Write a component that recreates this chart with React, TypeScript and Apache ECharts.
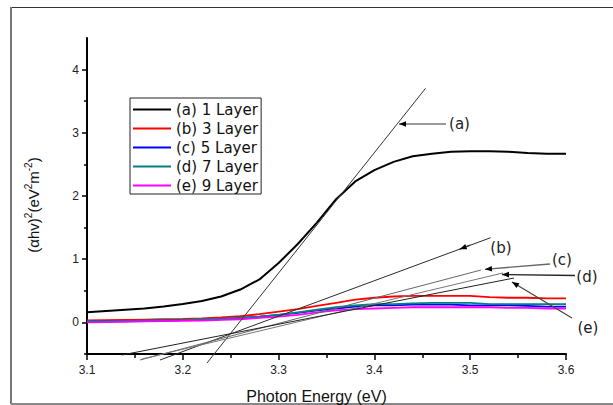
import React, { useEffect, useRef } from "react";
import * as echarts from "echarts";

// Photon energy grid (eV)
const energy = [3.10, 3.12, 3.14, 3.16, 3.18, 3.20, 3.22, 3.24, 3.26, 3.28, 3.30, 3.32, 3.34, 3.36, 3.38, 3.40, 3.42, 3.44, 3.46, 3.48, 3.50, 3.52, 3.54, 3.56, 3.58, 3.60];

// (αhν)² values for each film
const layer1 = [0.16, 0.18, 0.20, 0.22, 0.25, 0.29, 0.34, 0.41, 0.52, 0.68, 0.94, 1.24, 1.58, 1.95, 2.23, 2.41, 2.54, 2.63, 2.67, 2.70, 2.71, 2.71, 2.70, 2.68, 2.67, 2.67];
const layer3 = [0.03, 0.035, 0.04, 0.045, 0.05, 0.055, 0.065, 0.08, 0.10, 0.13, 0.17, 0.21, 0.26, 0.31, 0.36, 0.39, 0.41, 0.42, 0.42, 0.42, 0.42, 0.40, 0.39, 0.39, 0.38, 0.38];
const layer5 = [0.01, 0.015, 0.02, 0.025, 0.03, 0.035, 0.04, 0.05, 0.07, 0.09, 0.12, 0.15, 0.19, 0.22, 0.25, 0.27, 0.27, 0.28, 0.28, 0.28, 0.27, 0.27, 0.27, 0.26, 0.25, 0.25];
const layer7 = [0.02, 0.02, 0.025, 0.03, 0.035, 0.04, 0.05, 0.06, 0.07, 0.09, 0.12, 0.16, 0.20, 0.24, 0.27, 0.29, 0.29, 0.30, 0.31, 0.31, 0.31, 0.29, 0.29, 0.29, 0.29, 0.29];
const layer9 = [0.00, 0.005, 0.01, 0.015, 0.02, 0.025, 0.03, 0.04, 0.05, 0.07, 0.09, 0.12, 0.16, 0.19, 0.21, 0.22, 0.23, 0.24, 0.24, 0.24, 0.24, 0.24, 0.23, 0.23, 0.22, 0.22];

const seriesNames = ["(a) 1 Layer", "(b) 3 Layer", "(c) 5 Layer", "(d) 7 Layer", "(e) 9 Layer"];
const seriesValues = [layer1, layer3, layer5, layer7, layer9];
const seriesColors = ["#000000", "#ff0000", "#0000ff", "#008080", "#ff00ff"];
const seriesWidths = [2, 1.8, 1.8, 1.8, 1.8];

// Tangent (Tauc extrapolation) lines: [start], [end]
const tangentA = [[3.2253, -0.642], [3.4534, 3.704]];
const tangentB = [[3.1762, -0.595], [3.5213, 1.34]];
const tangentC = [[3.1553, -0.595], [3.5113, 0.829]];
const tangentD = [[3.1574, -0.579], [3.5342, 0.782]];
const tangentE = [[3.1365, -0.516], [3.5457, 0.702]];
const tangents = [tangentA, tangentB, tangentC, tangentD, tangentE];
const tangentColors = ["#333333", "#2a2a2a", "#666666", "#777777", "#222222"];

// Annotation arrows (data coordinates) and labels
const arrowFrom = [[3.4747, 3.139], [3.5, 1.221], [3.5833, 0.924], [3.6094, 0.742], [3.6062, 0.07]];
const arrowTo = [[3.4257, 3.139], [3.489, 1.159], [3.5154, 0.84], [3.5332, 0.758], [3.5436, 0.639]];
const arrowColors = ["#777777", "#333333", "#666666", "#222222", "#444444"];
const labelTexts = ["(a)", "(b)", "(c)", "(d)", "(e)"];
const labelAt = [[3.4779, 3.139], [3.5321, 1.177], [3.5958, 0.987], [3.6219, 0.726], [3.6229, -0.081]];
const labelAlign = ["left", "center", "center", "center", "center"];

const yMajorTicks = [0, 1, 2, 3, 4];
const yMinorTicks = [-0.5, 0.5, 1.5, 2.5, 3.5];

export default function App() {
  const ref = useRef<HTMLDivElement>(null);
  useEffect(() => {
    const chart = echarts.init(ref.current!, null, { renderer: "svg" });
    const dataSeries = seriesNames.map((name, i) => ({
      name,
      type: "line",
      data: energy.map((e, j) => [e, seriesValues[i][j]]),
      symbol: "none",
      smooth: false,
      color: seriesColors[i],
      itemStyle: { color: seriesColors[i] },
      lineStyle: { color: seriesColors[i], width: seriesWidths[i] },
      z: 3,
    }));
    const tanSeries = tangents.map((t, i) => ({
      name: "tangent" + i,
      type: "line",
      data: t,
      symbol: "none",
      clip: false,
      silent: true,
      color: tangentColors[i],
      lineStyle: { color: tangentColors[i], width: 1 },
      z: 4,
    }));
    const option: any = {
      animation: false,
      backgroundColor: "#ffffff",
      grid: { left: 87, right: 47, top: 38, bottom: 51, containLabel: false, outerBoundsMode: "none" },
      legend: {
        data: seriesNames,
        orient: "vertical",
        left: 130,
        top: 98,
        padding: [4, 3, 1, 3],
        icon: "rect",
        itemWidth: 38,
        itemHeight: 2,
        itemGap: 4,
        borderColor: "#222",
        borderWidth: 1,
        borderRadius: 0,
        backgroundColor: "#fff",
        textStyle: { fontFamily: "DejaVu Sans", fontSize: 15, color: "#111", lineHeight: 15 },
      },
      xAxis: {
        type: "value",
        min: 3.1,
        max: 3.6,
        interval: 0.1,
        name: "Photon Energy (eV)",
        nameLocation: "middle",
        nameGap: 34,
        nameTextStyle: { fontFamily: "Liberation Sans", fontSize: 16, color: "#111", padding: [0, 20, 0, 0] },
        axisLine: { show: true, onZero: false, lineStyle: { color: "#000", width: 2 } },
        axisTick: { show: true, length: 6, lineStyle: { color: "#000", width: 1.5 } },
        minorTick: { show: true, splitNumber: 2, length: 4, lineStyle: { color: "#000", width: 1.5 } },
        splitLine: { show: false },
        minorSplitLine: { show: false },
        axisLabel: {
          formatter: (v: number) => v.toFixed(1),
          fontFamily: "Liberation Sans",
          fontSize: 12,
          color: "#222",
          margin: 10,
        },
      },
      yAxis: [
        {
          type: "value",
          min: -0.5,
          max: 4.5,
          position: "left",
          name: "{b|(αhv)}{s|2}{b|(eV}{s|2}{b|m}{s|-2}{b|)}",
          nameLocation: "middle",
          nameRotate: 90,
          nameGap: 46,
          nameTextStyle: {
            padding: [0, 18, 0, 0],
            rich: {
              b: { fontFamily: "Liberation Sans", fontSize: 15, color: "#111", lineHeight: 18, verticalAlign: "bottom" },
              s: { fontFamily: "Liberation Sans", fontSize: 10, color: "#111", lineHeight: 18, verticalAlign: "top", padding: [0, 0, 8, 0] },
            },
          },
          axisLine: { show: true, onZero: false, lineStyle: { color: "#000", width: 2 } },
          axisTick: { show: true, length: 5, customValues: yMajorTicks, lineStyle: { color: "#000", width: 1.5 } },
          axisLabel: { customValues: yMajorTicks, fontFamily: "Liberation Sans", fontSize: 12, color: "#222", margin: 8 },
          splitLine: { show: false },
        },
        {
          type: "value",
          min: -0.5,
          max: 4.5,
          position: "left",
          axisLine: { show: false },
          axisTick: { show: true, length: 3, customValues: yMinorTicks, lineStyle: { color: "#000", width: 1.5 } },
          axisLabel: { show: false },
          splitLine: { show: false },
        },
      ],
      series: [...dataSeries, ...tanSeries],
    };
    chart.setOption(option);

    const px = (p: number[]) => chart.convertToPixel({ seriesIndex: 0 }, p) as number[];
    const g: any[] = [];
    // outer frame of the figure
    g.push({ type: "line", shape: { x1: 11, y1: 7.5, x2: 613, y2: 7.5 }, style: { stroke: "#333", lineWidth: 1 }, silent: true });
    g.push({ type: "line", shape: { x1: 11, y1: 7, x2: 11, y2: 404 }, style: { stroke: "#777", lineWidth: 2 }, silent: true });
    g.push({ type: "line", shape: { x1: 11, y1: 404, x2: 613, y2: 404 }, style: { stroke: "#888", lineWidth: 2 }, silent: true });

    arrowFrom.forEach((f, i) => {
      const [x1, y1] = px(f);
      const [x2, y2] = px(arrowTo[i]);
      g.push({ type: "line", shape: { x1, y1, x2, y2 }, style: { stroke: arrowColors[i], lineWidth: 1.3 }, silent: true, z: 10 });
      const dx = x2 - x1, dy = y2 - y1;
      const L = Math.hypot(dx, dy) || 1;
      const ux = dx / L, uy = dy / L;
      const hl = 7, hw = 2.8;
      const bx = x2 - ux * hl, by = y2 - uy * hl;
      g.push({
        type: "polygon",
        shape: { points: [[x2, y2], [bx - uy * hw, by + ux * hw], [bx + uy * hw, by - ux * hw]] },
        style: { fill: "#000" },
        silent: true,
        z: 11,
      });
    });
    labelTexts.forEach((t, i) => {
      const [x, y] = px(labelAt[i]);
      g.push({
        type: "text",
        x,
        y,
        silent: true,
        z: 12,
        style: { text: t, fontFamily: "DejaVu Sans", fontSize: 15, fill: "#222", align: labelAlign[i], verticalAlign: "middle" },
      });
    });
    chart.setOption({ graphic: g });
    return () => chart.dispose();
  }, []);
  return <div ref={ref} style={{ position: "absolute", left: 0, top: 0, width: 613, height: 405 }} />;
}
